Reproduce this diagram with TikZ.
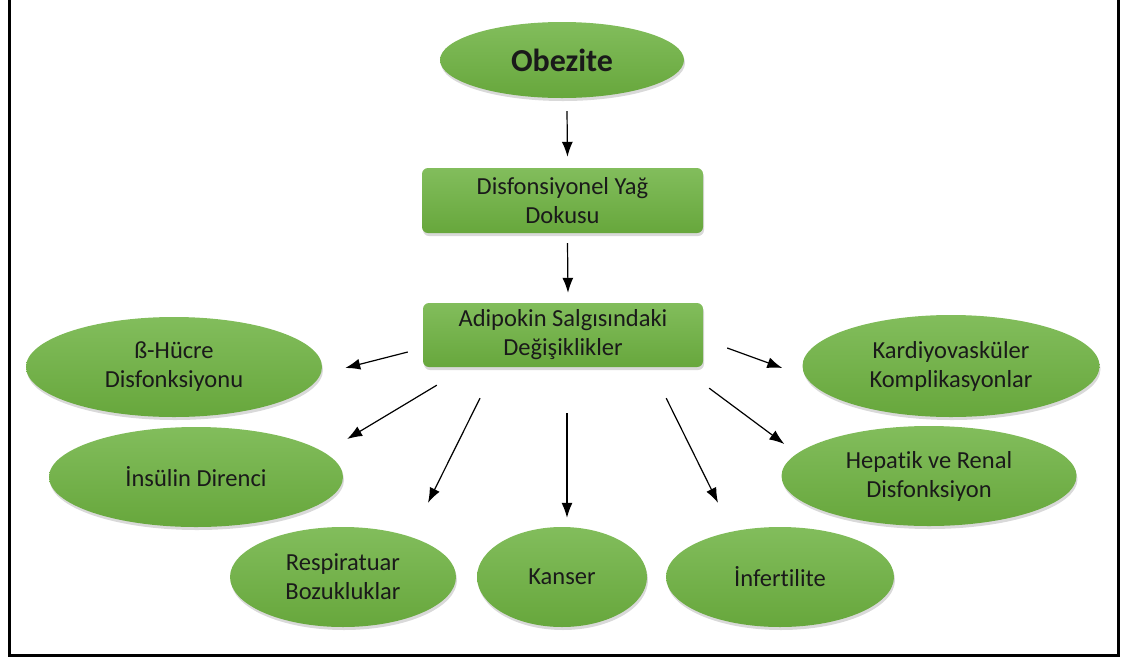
\documentclass[tikz,border=0pt]{standalone}
\usepackage{fontspec}
\setmainfont{Carlito}[Ligatures=NoCommon]
\usetikzlibrary{shapes.geometric,arrows.meta,shadows}
\definecolor{leafhi}{HTML}{82BD5C}
\definecolor{leaflo}{HTML}{67A73C}
\definecolor{inkdark}{HTML}{1A1A1A}
\tikzset{
  greenoval/.style={ellipse,inner sep=0pt,top color=leafhi,bottom color=leaflo,
    text=inkdark,align=center,font=\fontsize{24.5}{29}\selectfont,
    drop shadow={opacity=0.3,shadow xshift=1pt,shadow yshift=-3pt}},
  greenbox/.style={rectangle,rounded corners=6pt,inner sep=0pt,top color=leafhi,
    bottom color=leaflo,text=inkdark,align=center,font=\fontsize{24.5}{29}\selectfont,
    drop shadow={opacity=0.3,shadow xshift=1pt,shadow yshift=-3pt}},
  fanarrow/.style={-{Latex[length=15pt,width=11pt]},line width=1.2pt,black}
}
\begin{document}
\begin{tikzpicture}[x=1pt,y=-1pt]
\useasboundingbox(0,0)rectangle(1122,662);
%frame
\draw[line width=3pt](9.5,0)--(9.5,655.5)--(1118.5,655.5)--(1118.5,0);
%top of the chain
\node[greenoval,minimum width=244,minimum height=76,font=\bfseries\fontsize{32}{38}\selectfont](obezite)at(562,60){Obezite};
\node[greenbox,minimum width=281,minimum height=65](yag)at(562.5,200.5){Disfonsiyonel Yağ\\Dokusu};
\node[greenbox,minimum width=280,minimum height=64](adipokin)at(563,335){Adipokin Salgısındaki\\Değişiklikler};
%left side
\node[greenoval,minimum width=296,minimum height=100](beta)at(174,367){ß-Hücre\\Disfonksiyonu};
\node[greenoval,minimum width=294,minimum height=100](insulin)at(196,477){İnsülin Direnci};
%right side
\node[greenoval,minimum width=297,minimum height=102](kardiyo)at(951,366){Kardiyovasküler\\Komplikasyonlar};
\node[greenoval,minimum width=295,minimum height=100](hepatik)at(929,476){Hepatik ve Renal\\Disfonksiyon};
%bottom row
\node[greenoval,minimum width=226,minimum height=100](resp)at(343,577){Respiratuar\\Bozukluklar};
\node[greenoval,minimum width=170,minimum height=100](kanser)at(562,577){Kanser};
\node[greenoval,minimum width=228,minimum height=100](infert)at(780,577){İnfertilite};
%arrows
\draw[fanarrow]([shift={(5,13)}]obezite.south)--([shift={(5,-11)}]yag.north);
\draw[fanarrow]([shift={(5,10)}]yag.south)--([shift={(5,-10)}]adipokin.north);
\draw[fanarrow]([shift={(-15,17)}]adipokin.west)--([shift={(23,1)}]beta.east);
\draw[fanarrow]([shift={(14,18)}]adipokin.south west)--([shift={(4,-38)}]insulin.east);
\draw[fanarrow]([shift={(-83,31)}]adipokin.south)--([shift={(85,-24)}]resp.north);
\draw[fanarrow]([shift={(4,46)}]adipokin.south)--([shift={(5,-9)}]kanser.north);
\draw[fanarrow]([shift={(-37,31)}]adipokin.south east)--([shift={(-62,-24)}]infert.north);
\draw[fanarrow]([shift={(6,21)}]adipokin.south east)--([shift={(3,-32)}]hepatik.west);
\draw[fanarrow]([shift={(24,13)}]adipokin.east)--([shift={(-20,2)}]kardiyo.west);
\end{tikzpicture}
\end{document}
